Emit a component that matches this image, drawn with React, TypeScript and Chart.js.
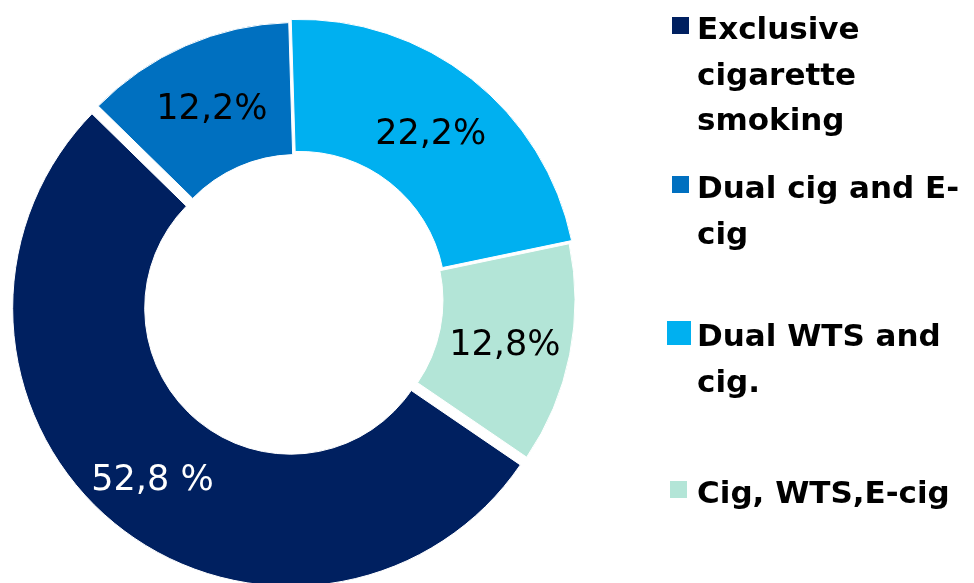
import React, { useEffect, useRef } from "react";
import { Chart, registerables } from "chart.js";

Chart.register(...registerables);

// ---- data ----
const categories = [
  "Exclusive cigarette smoking",
  "Dual cig and E-cig",
  "Dual WTS and cig.",
  "Cig, WTS,E-cig",
];
const values = [52.8, 12.2, 22.2, 12.8];
const valueLabels = ["52,8 %", "12,2%", "22,2%", "12,8%"];

// ---- styles ----
const colors = ["#002060", "#0070C0", "#00B0F0", "#B3E5D7"];
const labelColors = ["#FFFFFF", "#000000", "#000000", "#000000"];
const explode = [10, 0, 4, 0];
const labelRadiusExtra = [6, 0, 0, 0];
const legendSquareSize = [17, 17, 24, 17];
const legendSquareLeft = [672, 672, 667, 670];
const legendTops = [6, 165, 313, 470];

const W = 974;
const H = 583;

const slicePlugin = {
  id: "sliceExplodeAndLabels",
  beforeDatasetsDraw(chart: any) {
    const meta = chart.getDatasetMeta(0);
    meta.data.forEach((arc: any, i: number) => {
      const e = explode[i] || 0;
      const mid = (arc.startAngle + arc.endAngle) / 2;
      arc._origX = arc.x;
      arc._origY = arc.y;
      arc.x = arc.x + Math.cos(mid) * e;
      arc.y = arc.y + Math.sin(mid) * e;
    });
  },
  afterDatasetsDraw(chart: any) {
    const meta = chart.getDatasetMeta(0);
    const ctx = chart.ctx;
    ctx.save();
    const size = 35;
    ctx.font = `${size}px 'DejaVu Sans'`;
    ctx.textAlign = "center";
    ctx.textBaseline = "alphabetic";
    meta.data.forEach((arc: any, i: number) => {
      const mid = (arc.startAngle + arc.endAngle) / 2;
      const r = (arc.innerRadius + arc.outerRadius) / 2 + (labelRadiusExtra[i] || 0);
      const x = arc.x + Math.cos(mid) * r;
      const y = arc.y + Math.sin(mid) * r;
      ctx.fillStyle = labelColors[i];
      ctx.fillText(valueLabels[i], x, y + size * 0.364);
    });
    ctx.restore();
    meta.data.forEach((arc: any) => {
      if (arc._origX !== undefined) {
        arc.x = arc._origX;
        arc.y = arc._origY;
      }
    });
  },
};

export default function App() {
  const canvasRef = useRef<HTMLCanvasElement | null>(null);

  useEffect(() => {
    if (!canvasRef.current) return;
    const chart = new Chart(canvasRef.current, {
      type: "doughnut",
      data: {
        labels: categories,
        datasets: [
          {
            data: values,
            backgroundColor: colors,
            borderColor: "#FFFFFF",
            borderWidth: 1,
            hoverOffset: 0,
          },
        ],
      },
      options: {
        responsive: false,
        animation: false,
        rotation: 124.3,
        cutout: "52.5%",
        radius: 278,
        events: [],
        layout: { padding: { left: 0, top: 18, right: W - 594, bottom: 0 } },
        plugins: {
          legend: { display: false },
          tooltip: { enabled: false },
        },
      },
      plugins: [slicePlugin],
    } as any);
    return () => chart.destroy();
  }, []);

  return (
    <div
      style={{
        position: "absolute",
        left: 0,
        top: 0,
        width: W,
        height: H,
        overflow: "hidden",
        background: "#FFFFFF",
      }}
    >
      <canvas
        ref={canvasRef}
        width={W}
        height={H}
        style={{ position: "absolute", left: 0, top: 0, width: W, height: H }}
      />
      {categories.map((c, i) => (
        <React.Fragment key={c}>
          <div
            style={{
              position: "absolute",
              left: legendSquareLeft[i],
              top: legendTops[i] + 33.5 - 14 - legendSquareSize[i] / 2,
              width: legendSquareSize[i],
              height: legendSquareSize[i],
              background: colors[i],
            }}
          />
          <div
            style={{
              position: "absolute",
              left: 697,
              top: legendTops[i],
              width: 274,
              fontFamily: "'DejaVu Sans', sans-serif",
              fontWeight: "bold",
              fontSize: 31,
              lineHeight: "45.5px",
              color: "#000000",
            }}
          >
            {c}
          </div>
        </React.Fragment>
      ))}
    </div>
  );
}
